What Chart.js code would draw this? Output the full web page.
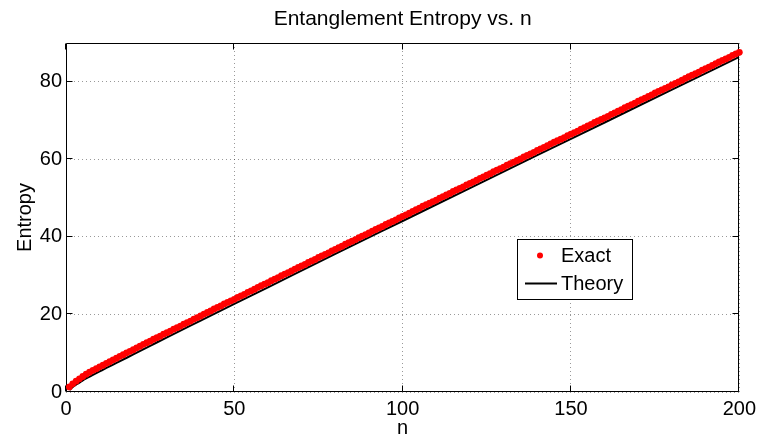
<!DOCTYPE html>
<html><head><meta charset="utf-8">
<script src="https://cdn.jsdelivr.net/npm/chart.js@4"></script>
<style>html,body{margin:0;padding:0;background:#fff;} canvas{display:block;}</style>
</head><body>
<canvas id="c" width="761" height="441"></canvas>
<script>
const titleText = 'Entanglement Entropy vs. n';
const xAxisLabel = 'n';
const yAxisLabel = 'Entropy';
const seriesNames = ['Exact', 'Theory'];
const xTicks = [0, 50, 100, 150, 200];
const yTicks = [0, 20, 40, 60, 80];

const nValues = [
  1,2,3,4,5,6,7,8,9,10,11,12,13,14,15,16,17,18,19,20,
  21,22,23,24,25,26,27,28,29,30,31,32,33,34,35,36,37,38,39,40,
  41,42,43,44,45,46,47,48,49,50,51,52,53,54,55,56,57,58,59,60,
  61,62,63,64,65,66,67,68,69,70,71,72,73,74,75,76,77,78,79,80,
  81,82,83,84,85,86,87,88,89,90,91,92,93,94,95,96,97,98,99,100,
  101,102,103,104,105,106,107,108,109,110,111,112,113,114,115,116,117,118,119,120,
  121,122,123,124,125,126,127,128,129,130,131,132,133,134,135,136,137,138,139,140,
  141,142,143,144,145,146,147,148,149,150,151,152,153,154,155,156,157,158,159,160,
  161,162,163,164,165,166,167,168,169,170,171,172,173,174,175,176,177,178,179,180,
  181,182,183,184,185,186,187,188,189,190,191,192,193,194,195,196,197,198,199,200
];
const exactValues = [
  1.3,2.1,2.8,3.4,4.0,4.6,5.1,5.6,6.0,6.5,
  6.9,7.4,7.8,8.3,8.7,9.2,9.6,10.1,10.5,10.9,
  11.4,11.8,12.3,12.7,13.1,13.6,14.0,14.4,14.9,15.3,
  15.7,16.2,16.6,17.0,17.5,17.9,18.3,18.8,19.2,19.6,
  20.1,20.5,20.9,21.4,21.8,22.2,22.7,23.1,23.5,23.9,
  24.4,24.8,25.2,25.7,26.1,26.5,27.0,27.4,27.8,28.2,
  28.7,29.1,29.5,30.0,30.4,30.8,31.2,31.7,32.1,32.5,
  32.9,33.4,33.8,34.2,34.7,35.1,35.5,35.9,36.4,36.8,
  37.2,37.6,38.1,38.5,38.9,39.3,39.8,40.2,40.6,41.0,
  41.5,41.9,42.3,42.7,43.2,43.6,44.0,44.4,44.9,45.3,
  45.7,46.1,46.6,47.0,47.4,47.9,48.3,48.7,49.1,49.5,
  50.0,50.4,50.8,51.2,51.7,52.1,52.5,52.9,53.4,53.8,
  54.2,54.6,55.1,55.5,55.9,56.3,56.8,57.2,57.6,58.0,
  58.5,58.9,59.3,59.7,60.1,60.6,61.0,61.4,61.8,62.3,
  62.7,63.1,63.5,64.0,64.4,64.8,65.2,65.6,66.1,66.5,
  66.9,67.3,67.8,68.2,68.6,69.0,69.5,69.9,70.3,70.7,
  71.1,71.6,72.0,72.4,72.8,73.3,73.7,74.1,74.5,75.0,
  75.4,75.8,76.2,76.6,77.1,77.5,77.9,78.3,78.7,79.2,
  79.6,80.0,80.4,80.9,81.3,81.7,82.1,82.5,83.0,83.4,
  83.8,84.2,84.7,85.1,85.5,85.9,86.3,86.8,87.2,87.6
];
const theoryN = [1,2,3,4,5,6,8,10,12,15,20,25,30,40,50,60,80,100,120,140,160,180,200];
const theoryValues = [0.5,1.3,1.9,2.4,3.0,3.5,4.4,5.3,6.2,7.5,9.7,11.9,14.1,18.4,22.7,27.0,35.6,44.1,52.6,61.1,69.5,78.0,86.4];

const FONT = "'Liberation Sans', Arial, Helvetica, sans-serif";

const exactPoints = nValues.map((n, i) => ({ x: n, y: exactValues[i] }));
const theoryPoints = theoryN.map((n, i) => ({ x: n, y: theoryValues[i] }));

const framePlugin = {
  id: 'frame',
  beforeDatasetsDraw(chart) {
    const { ctx, chartArea: a, scales: { x, y } } = chart;
    ctx.save();
    ctx.strokeStyle = '#000';
    ctx.lineWidth = 1;
    const L = Math.round(a.left) + 0.5, R = Math.round(a.right) - 0.5;
    const T = Math.round(a.top) + 0.5, B = Math.round(a.bottom) - 0.5;
    ctx.beginPath();
    ctx.rect(L, T, R - L, B - T);
    const tl = 6;
    xTicks.forEach(v => {
      const px = Math.round(x.getPixelForValue(v)) - 0.5;
      ctx.moveTo(px, B); ctx.lineTo(px, B - tl);
      ctx.moveTo(px, T); ctx.lineTo(px, T + tl);
    });
    yTicks.forEach(v => {
      const py = Math.round(y.getPixelForValue(v)) - 0.5;
      ctx.moveTo(L, py); ctx.lineTo(L + tl, py);
      ctx.moveTo(R, py); ctx.lineTo(R - tl, py);
    });
    ctx.stroke();
    ctx.restore();
  }
};

const legendPlugin = {
  id: 'boxLegend',
  afterDraw(chart) {
    const { ctx } = chart;
    const ds = chart.data.datasets;
    ctx.save();
    ctx.fillStyle = '#fff';
    ctx.strokeStyle = '#000';
    ctx.lineWidth = 1;
    ctx.fillRect(517.5, 239.5, 115, 60);
    ctx.strokeRect(517.5, 239.5, 115, 60);
    ctx.fillStyle = ds[0].backgroundColor;
    ctx.beginPath();
    ctx.arc(540, 255.5, 3, 0, Math.PI * 2);
    ctx.fill();
    ctx.strokeStyle = ds[1].borderColor;
    ctx.lineWidth = 2;
    ctx.beginPath();
    ctx.moveTo(525, 283.5); ctx.lineTo(557, 283.5);
    ctx.stroke();
    ctx.fillStyle = '#000';
    ctx.font = '20px ' + FONT;
    ctx.textBaseline = 'middle';
    ctx.textAlign = 'left';
    ctx.fillText(ds[0].label, 561, 256.5);
    ctx.fillText(ds[1].label, 561, 284.5);
    ctx.restore();
  }
};

new Chart(document.getElementById('c'), {
  type: 'line',
  data: {
    datasets: [
      {
        label: seriesNames[0],
        data: exactPoints,
        showLine: false,
        pointRadius: 3.4,
        pointBorderWidth: 0,
        pointBackgroundColor: '#ff0000',
        backgroundColor: '#ff0000',
        borderColor: '#ff0000',
        clip: false
      },
      {
        label: seriesNames[1],
        data: theoryPoints,
        showLine: true,
        pointRadius: 0,
        borderWidth: 2,
        borderColor: '#000000',
        backgroundColor: '#000000',
        cubicInterpolationMode: 'monotone',
        fill: false
      }
    ]
  },
  options: {
    responsive: false,
    animation: false,
    devicePixelRatio: 1,
    layout: { padding: { left: 0, right: 19, top: 0, bottom: 0 } },
    plugins: {
      legend: { display: false },
      tooltip: { enabled: false },
      title: {
        display: true,
        text: titleText,
        fullSize: false,
        color: '#000',
        font: { family: FONT, size: 21, weight: 'normal', lineHeight: 1.2 },
        padding: { top: 7, bottom: 10.8 }
      }
    },
    scales: {
      x: {
        type: 'linear',
        min: 0,
        max: 200,
        afterBuildTicks: s => { s.ticks = xTicks.map(v => ({ value: v })); },
        afterFit: s => { s.height = 49; },
        grid: { color: 'rgba(0,0,0,0.4)', lineWidth: 1, drawTicks: false, borderDash: [1, 3] },
        border: { display: false, dash: [1, 3] },
        ticks: { color: '#000', font: { family: FONT, size: 20 }, padding: 5, maxRotation: 0, autoSkip: false },
        title: { display: true, text: xAxisLabel, color: '#000', font: { family: FONT, size: 20 }, padding: { top: 0, bottom: 1 } }
      },
      y: {
        type: 'linear',
        min: 0,
        max: 90,
        afterBuildTicks: s => { s.ticks = yTicks.map(v => ({ value: v })); },
        afterFit: s => { s.width = 66; },
        grid: { color: 'rgba(0,0,0,0.4)', lineWidth: 1, drawTicks: false, borderDash: [1, 3] },
        border: { display: false, dash: [1, 3] },
        ticks: { color: '#000', font: { family: FONT, size: 20 }, padding: 4 },
        title: { display: true, text: yAxisLabel, color: '#000', font: { family: FONT, size: 20 }, padding: { top: 13, bottom: 0 } }
      }
    }
  },
  plugins: [framePlugin, legendPlugin]
});
</script>
</body></html>
